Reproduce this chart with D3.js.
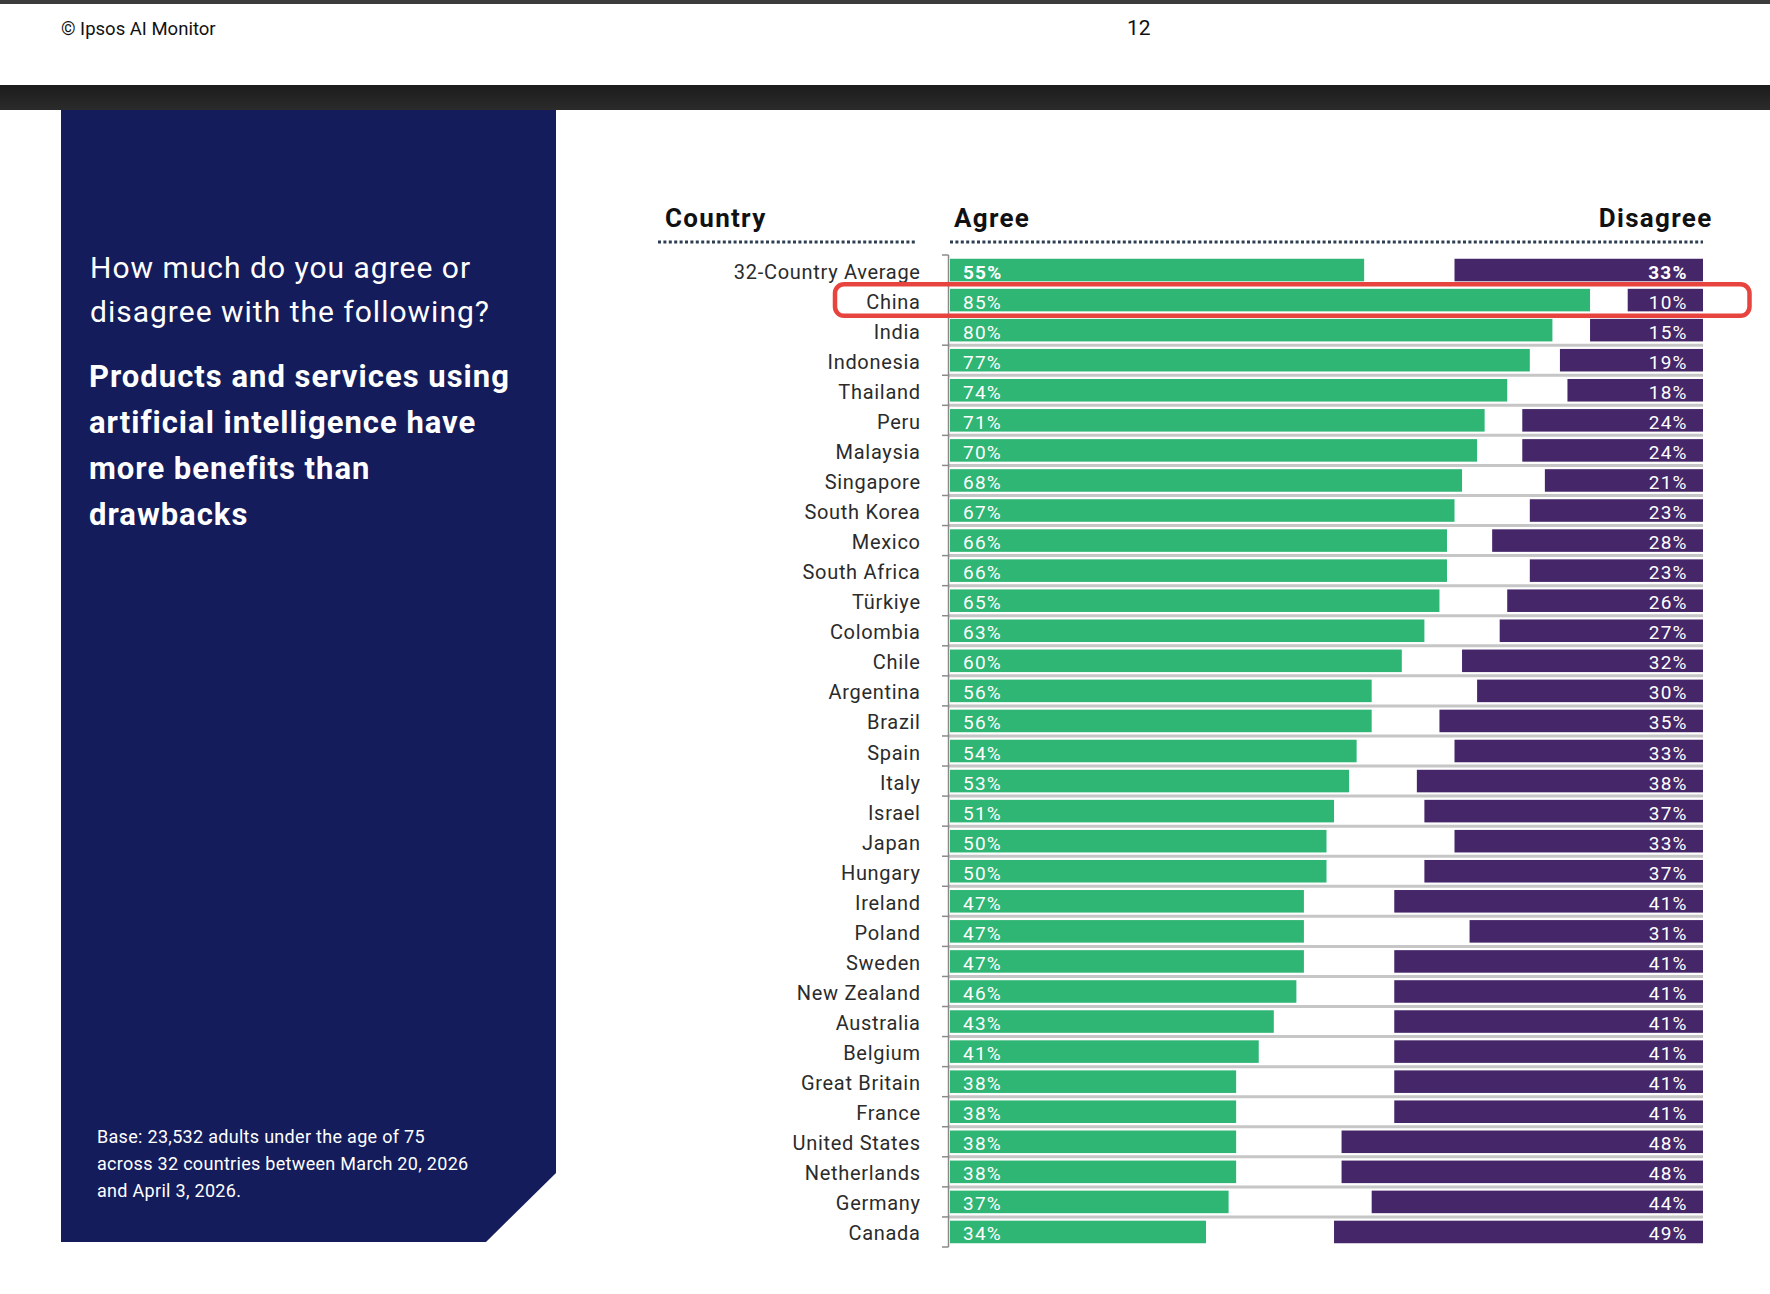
<!DOCTYPE html>
<html>
<head>
<meta charset="utf-8">
<script src="https://cdn.jsdelivr.net/npm/d3@7"></script>
<style>
  html, body { margin: 0; padding: 0; background: #fff; }
  svg { display: block; font-family: Roboto, "Noto Sans", sans-serif; }
</style>
</head>
<body>
<svg id="chart" width="1770" height="1294"></svg>
<script>
// ---- data ----
const countries = ["32-Country Average","China","India","Indonesia","Thailand","Peru","Malaysia","Singapore","South Korea","Mexico","South Africa","Türkiye","Colombia","Chile","Argentina","Brazil","Spain","Italy","Israel","Japan","Hungary","Ireland","Poland","Sweden","New Zealand","Australia","Belgium","Great Britain","France","United States","Netherlands","Germany","Canada"];
const agree    = [55,85,80,77,74,71,70,68,67,66,66,65,63,60,56,56,54,53,51,50,50,47,47,47,46,43,41,38,38,38,38,37,34];
const disagree = [33,10,15,19,18,24,24,21,23,28,23,26,27,32,30,35,33,38,37,33,37,41,31,41,41,41,41,41,41,48,48,44,49];
const highlighted = ["China"];
const headers = ["Country", "Agree", "Disagree"];
const questionLines = ["How much do you agree or", "disagree with the following?"];
const statementLines = ["Products and services using", "artificial intelligence have", "more benefits than", "drawbacks"];
const baseLines = ["Base: 23,532 adults under the age of 75", "across 32 countries between March 20, 2026", "and April 3, 2026."];

const rows = countries.map((c, i) => ({country: c, agree: agree[i], disagree: disagree[i], avg: i === 0}));

const svg = d3.select("#chart");
const GREEN = "#2fb574", PURPLE = "#452668", NAVY = "#141c5b";

// ---- page chrome ----
svg.append("rect").attr("x", 0).attr("y", 0).attr("width", 1770).attr("height", 4).attr("fill", "#3c3c3c");
svg.append("text").attr("x", 61).attr("y", 35).attr("font-size", 18.5).attr("fill", "#111").text("© Ipsos AI Monitor");
svg.append("text").attr("x", 1127).attr("y", 35).attr("font-size", 21).attr("fill", "#111").text("12");
const grad = svg.append("defs").append("linearGradient").attr("id", "band").attr("x1", 0).attr("x2", 0).attr("y1", 0).attr("y2", 1);
grad.append("stop").attr("offset", "0%").attr("stop-color", "#1c1c1c");
grad.append("stop").attr("offset", "100%").attr("stop-color", "#2b2b2b");
svg.append("rect").attr("x", 0).attr("y", 85).attr("width", 1770).attr("height", 25).attr("fill", "url(#band)");

// ---- left panel ----
svg.append("path").attr("d", "M61,110 L556,110 L556,1173 L486,1242 L61,1242 Z").attr("fill", NAVY);
svg.append("g").selectAll("text").data(questionLines).join("text")
  .attr("x", 90).attr("y", (d, i) => 278 + i * 44)
  .attr("font-size", 30).attr("letter-spacing", 1.0).attr("fill", "#fff").text(d => d);
svg.append("g").selectAll("text").data(statementLines).join("text")
  .attr("x", 89).attr("y", (d, i) => 387 + i * 46)
  .attr("font-size", 31).attr("letter-spacing", 1.0).attr("font-weight", 700).attr("fill", "#fff").text(d => d);
svg.append("g").selectAll("text").data(baseLines).join("text")
  .attr("x", 97).attr("y", (d, i) => 1143 + i * 27)
  .attr("font-size", 18).attr("letter-spacing", 0.3).attr("fill", "#fff").text(d => d);

// ---- scales ----
const y = d3.scaleBand().domain(countries).range([255, 1247]).paddingInner(0.25).paddingOuter(0.125);
const x = d3.scaleLinear().domain([0, 100]).range([950, 1703]);
const bw = y.bandwidth();

// ---- headers ----
const hdr = (t, xx, anchor) => svg.append("text").attr("x", xx).attr("y", 227).attr("text-anchor", anchor)
  .attr("font-size", 26).attr("font-weight", 700).attr("letter-spacing", 1.3).attr("fill", "#111").text(t);
hdr(headers[0], 665, "start");
hdr(headers[1], x(0) + 4, "start");
hdr(headers[2], x(100) + 9.5, "end");
svg.append("line").attr("x1", 658).attr("x2", 916).attr("y1", 242).attr("y2", 242)
  .attr("stroke", "#2c3e50").attr("stroke-width", 3).attr("stroke-dasharray", "3,2.4");
svg.append("line").attr("x1", x(0)).attr("x2", x(100)).attr("y1", 242).attr("y2", 242)
  .attr("stroke", "#2c3e50").attr("stroke-width", 3).attr("stroke-dasharray", "3,2.4");

// ---- separators and axis ----
const sepY = [];
for (let i = 2; i < countries.length - 1; i++) {
  sepY.push((y(countries[i]) + bw + y(countries[i + 1])) / 2);
}
svg.append("g").selectAll("line").data(sepY).join("line")
  .attr("x1", 949).attr("x2", x(100)).attr("y1", d => d).attr("y2", d => d)
  .attr("stroke", "#c6c6c6").attr("stroke-width", 3);
const axisX = 948.5;
const [r0, r1] = y.range();
svg.append("line").attr("x1", axisX).attr("x2", axisX).attr("y1", r0).attr("y2", r1).attr("stroke", "#8a8a8a").attr("stroke-width", 1.5);
svg.append("g").selectAll("line").data([r0, ...sepY, r1]).join("line")
  .attr("x1", 942).attr("x2", axisX).attr("y1", d => d).attr("y2", d => d)
  .attr("stroke", "#8a8a8a").attr("stroke-width", 1.5);

// ---- bars ----
const g = svg.append("g");
g.selectAll("rect.agree").data(rows).join("rect").attr("class", "agree")
  .attr("x", x(0)).attr("y", d => y(d.country)).attr("width", d => x(d.agree) - x(0)).attr("height", bw)
  .attr("fill", GREEN);
g.selectAll("rect.disagree").data(rows).join("rect").attr("class", "disagree")
  .attr("x", d => x(100 - d.disagree)).attr("y", d => y(d.country)).attr("width", d => x(100) - x(100 - d.disagree)).attr("height", bw)
  .attr("fill", PURPLE);

// ---- labels ----
g.selectAll("text.country").data(rows).join("text").attr("class", "country")
  .attr("x", 920.7).attr("y", d => y(d.country) + bw / 2 + 8.5).attr("text-anchor", "end")
  .attr("font-size", 20).attr("letter-spacing", 0.7).attr("fill", "#2b2b2b").text(d => d.country);
g.selectAll("text.agreeLab").data(rows).join("text").attr("class", "agreeLab")
  .attr("x", x(0) + 13).attr("y", d => y(d.country) + bw / 2 + 8.5)
  .attr("font-size", 19).attr("letter-spacing", 1.2).attr("font-weight", d => d.avg ? 700 : 400).attr("fill", "#fff")
  .text(d => d.agree + "%");
g.selectAll("text.disLab").data(rows).join("text").attr("class", "disLab")
  .attr("x", x(100) - 15.3).attr("y", d => y(d.country) + bw / 2 + 8.5).attr("text-anchor", "end")
  .attr("font-size", 19).attr("letter-spacing", 1.2).attr("font-weight", d => d.avg ? 700 : 400).attr("fill", "#fff")
  .text(d => d.disagree + "%");

// ---- highlight box ----
svg.append("g").selectAll("rect").data(highlighted).join("rect")
  .attr("x", 835).attr("y", d => y(d) - 4.5).attr("width", 914.5).attr("height", bw + 9)
  .attr("rx", 9).attr("fill", "none").attr("stroke", "#e8443f").attr("stroke-width", 4.5);
</script>
</body>
</html>
